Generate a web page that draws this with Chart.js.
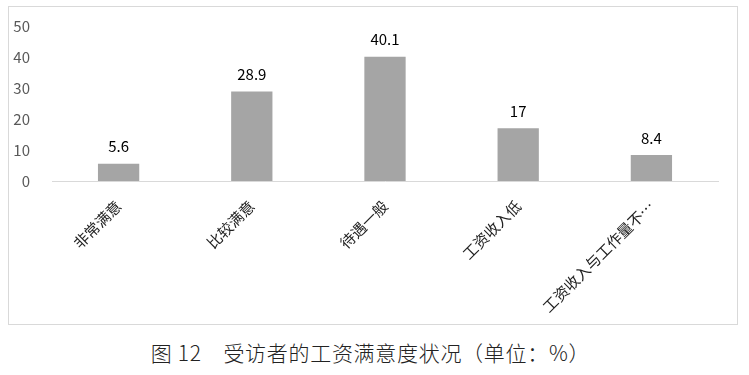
<!DOCTYPE html>
<html>
<head>
<meta charset="utf-8">
<script src="https://cdn.jsdelivr.net/npm/chart.js@4/dist/chart.umd.min.js"></script>
<style>
    html, body { margin: 0; padding: 0; background: #fff; }
    body { width: 749px; height: 375px; position: relative; overflow: hidden; }
    #frame {
        position: absolute; left: 8px; top: 6px;
        width: 728px; height: 317px;
        border: 1px solid #d9d9d9;
    }
    #chart { position: absolute; left: 0; top: 0; }
    #caption {
        position: absolute; left: 0; top: 337px; width: 741px;
        text-align: center;
        font-family: "Noto Sans CJK SC", sans-serif;
        font-weight: 300;
        font-size: 21px; letter-spacing: 0.7px; color: #222; line-height: 30px;
        white-space: pre;
    }
</style>
</head>
<body>
<div id="frame"></div>
<canvas id="chart" width="749" height="323"></canvas>
<div id="caption">图 12　受访者的工资满意度状况（单位：%）</div>

<script>
// 数据
const categories = ['非常满意', '比较满意', '待遇一般', '工资收入低', '工资收入与工作量不…'];
const values = [5.6, 28.9, 40.1, 17, 8.4];
const yTicks = [0, 10, 20, 30, 40, 50];

const FONT = '"Noto Sans CJK SC", "Noto Sans", sans-serif';

// 柱顶数值标签
const valueLabels = {
    id: 'valueLabels',
    afterDatasetsDraw(chart) {
        const ctx = chart.ctx;
        const meta = chart.getDatasetMeta(0);
        ctx.save();
        ctx.font = '15px ' + FONT;
        ctx.fillStyle = '#000';
        ctx.textAlign = 'center';
        ctx.textBaseline = 'middle';
        meta.data.forEach((bar, i) => {
            ctx.fillText(String(values[i]), bar.x, bar.y - 17);
        });
        ctx.restore();
    }
};

new Chart(document.getElementById('chart').getContext('2d'), {
    type: 'bar',
    data: {
        labels: categories,
        datasets: [{
            data: values,
            backgroundColor: '#a5a5a5',
            borderWidth: 0,
            barPercentage: 0.31,
            categoryPercentage: 1
        }]
    },
    options: {
        responsive: false,
        animation: false,
        layout: { padding: { top: 26, right: 31, left: 0, bottom: 0 } },
        plugins: {
            legend: { display: false },
            tooltip: { enabled: false }
        },
        scales: {
            x: {
                grid: { display: false },
                border: { display: true, color: '#d9d9d9', width: 1 },
                ticks: {
                    color: '#222',
                    font: { family: FONT, size: 15 },
                    minRotation: 45,
                    maxRotation: 45,
                    autoSkip: false,
                    padding: 8
                },
                afterFit(scale) { scale.height = 142; }
            },
            y: {
                min: 0,
                max: 50,
                grid: { display: false },
                border: { display: false },
                afterBuildTicks(scale) { scale.ticks = yTicks.map(v => ({ value: v })); },
                ticks: {
                    color: '#595959',
                    font: { family: FONT, size: 15 },
                    padding: 14
                },
                afterFit(scale) { scale.width = 52; }
            }
        }
    },
    plugins: [valueLabels]
});
</script>
</body>
</html>
